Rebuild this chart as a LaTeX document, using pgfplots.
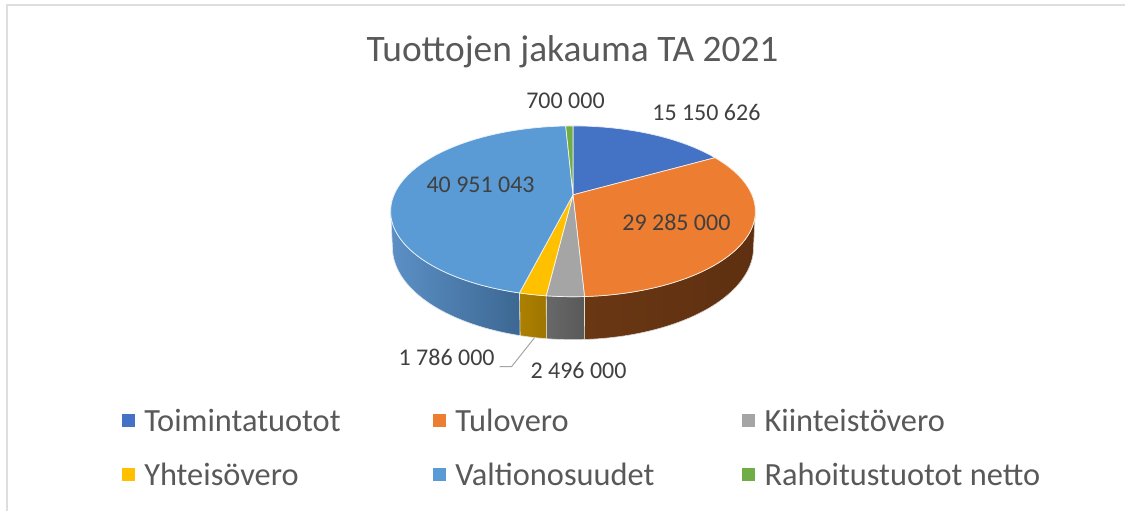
\documentclass[border=0pt]{standalone}
\usepackage{pgfplots}
\pgfplotsset{compat=1.18}
\usepackage{fontspec}
\setmainfont{Carlito}
\definecolor{cA}{HTML}{4472C4}
\definecolor{cB}{HTML}{ED7D31}
\definecolor{cC}{HTML}{A5A5A5}
\definecolor{cD}{HTML}{FFC000}
\definecolor{cE}{HTML}{5B9BD5}
\definecolor{cF}{HTML}{70AD47}
\definecolor{tit}{HTML}{595959}
\definecolor{lab}{HTML}{404040}
\definecolor{wOl}{HTML}{6A3713}\definecolor{wOm}{HTML}{5C2F10}\definecolor{wOr}{HTML}{5E3011}
\definecolor{wGl}{HTML}{686868}\definecolor{wGm}{HTML}{606060}\definecolor{wGr}{HTML}{595959}
\definecolor{wYl}{HTML}{AC8000}\definecolor{wYm}{HTML}{A57B00}\definecolor{wYr}{HTML}{9E7500}
\definecolor{wBl}{HTML}{5C90C6}\definecolor{wBm}{HTML}{4C7BAB}\definecolor{wBr}{HTML}{3C6792}
% values in millions
\def\va{15.150626}\def\vb{29.285}\def\vc{2.496}\def\vd{1.786}\def\ve{40.951043}\def\vf{0.7}
\pgfmathsetmacro\tot{\va+\vb+\vc+\vd+\ve+\vf}
\pgfmathsetmacro\aA{360*\va/\tot}
\pgfmathsetmacro\aB{\aA+360*\vb/\tot}
\pgfmathsetmacro\aC{\aB+360*\vc/\tot}
\pgfmathsetmacro\aD{\aC+360*\vd/\tot}
\pgfmathsetmacro\aE{\aD+360*\ve/\tot}
\newcommand\piece[3]{\addplot[forget plot,fill=#3,draw=white!88!#3,line width=0.7pt,line join=round,domain=#1:#2,samples=60]
  ({wx(x)},{wy(x)}) -- (axis cs:573.5,195) -- cycle;}
\newcommand\wall[5]{\addplot[forget plot,left color=#3,middle color=#4,right color=#5,draw=white!80!#4,line width=0.6pt,domain=0:2.02,samples=102]
  ({ifthenelse(x>1.01,wxb(#1+(#2-#1)*(2.02-x)),wx(#1+(#2-#1)*x))},{ifthenelse(x>1.01,wyb(#1+(#2-#1)*(2.02-x)),wy(#1+(#2-#1)*x))}) -- cycle;}
\begin{document}
\begin{tikzpicture}
\begin{axis}[
  width=1126pt,height=511pt,scale only axis,hide axis,clip=false,
  xmin=0,xmax=1126,ymin=0,ymax=511,y dir=reverse,
  declare function={
    wx(\t)=573.5+179.1*sin(\t)/(1+0.193*cos(\t));
    wy(\t)=195-82.3*cos(\t)/(1+0.193*cos(\t));
    wxb(\t)=573.5+0.99*179.1*sin(\t)/(1+0.193*cos(\t));
    wyb(\t)=195+(34.7-82.3*cos(\t))/(1+0.193*cos(\t));
  },
  legend style={at={(axis cs:122,407)},anchor=north west,draw=none,fill=none,inner sep=0pt,outer sep=0pt,
    font=\fontsize{32.4}{38}\selectfont,text=tit,legend columns=3,
    /tikz/column sep=0pt,/tikz/row sep=26pt,
    cells={anchor=west}},
  legend image code/.code={\fill[#1] (0pt,-6pt) rectangle (12pt,6pt);},
]
\fill[white] (axis cs:0,0) rectangle (axis cs:1126,511);
\draw[color=black!13,line width=2pt] (axis cs:7,511) -- (axis cs:7,5) -- (axis cs:1126,5);

% side walls
\wall{101}{\aB}{wOl}{wOm}{wOr}
\wall{\aB}{\aC}{wGl}{wGm}{wGr}
\wall{\aC}{\aD}{wYl}{wYm}{wYr}
\wall{\aD}{259}{wBl}{wBm}{wBr}
% top faces
\piece{0}{\aA}{cA}
\piece{\aA}{\aB}{cB}
\piece{\aB}{\aC}{cC}
\piece{\aC}{\aD}{cD}
\piece{\aD}{\aE}{cE}
\piece{\aE}{360}{cF}
% leader
\addplot[forget plot,color=black!35,line width=1pt] coordinates {(500,367) (512,367) (535,338)};

\addlegendimage{cA}\addlegendentry{\makebox[295pt][l]{\hspace*{8pt}Toimintatuotot}}
\addlegendimage{cB}\addlegendentry{\makebox[293pt][l]{\hspace*{8pt}Tulovero}}
\addlegendimage{cC}\addlegendentry{\hspace*{8pt}Kiinteistövero}
\addlegendimage{cD}\addlegendentry{\makebox[295pt][l]{\hspace*{8pt}Yhteisövero}}
\addlegendimage{cE}\addlegendentry{\makebox[293pt][l]{\hspace*{8pt}Valtionosuudet}}
\addlegendimage{cF}\addlegendentry{\hspace*{8pt}Rahoitustuotot netto}

\node[text=tit,font=\fontsize{37.4}{42}\selectfont] at (axis cs:573,52) {Tuottojen jakauma TA 2021};
\begin{scope}[every node/.style={text=lab,font=\fontsize{24}{28}\selectfont}]
\node at (axis cs:566,101) {700 000};
\node at (axis cs:707,113) {15 150 626};
\node at (axis cs:481,185) {40 951 043};
\node at (axis cs:677,223) {29 285 000};
\node at (axis cs:447,358) {1 786 000};
\node at (axis cs:579,371) {2 496 000};
\end{scope}
\end{axis}
\end{tikzpicture}
\end{document}
